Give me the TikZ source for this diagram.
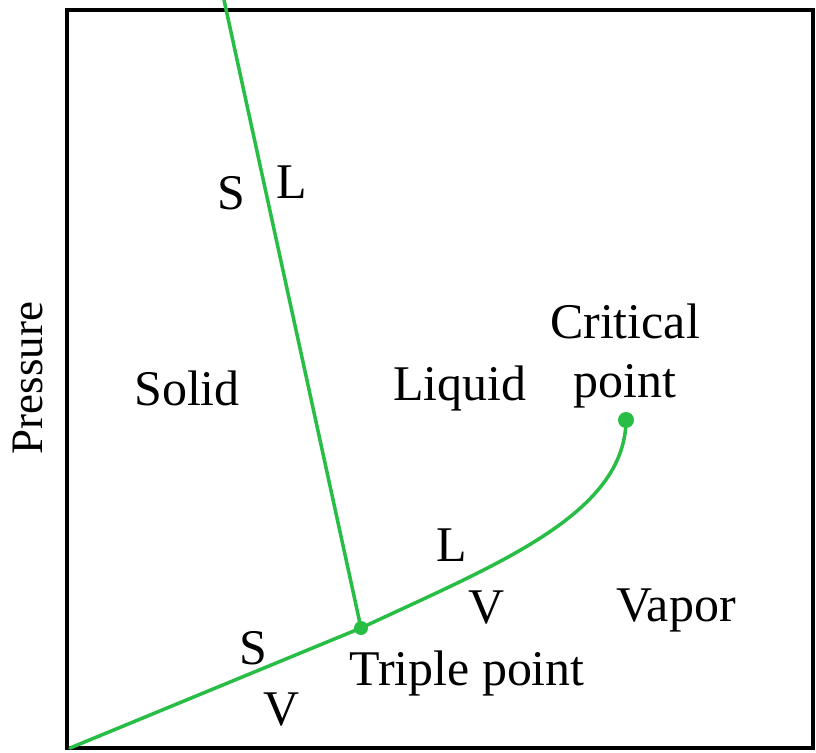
\documentclass[tikz,border=0pt]{standalone}
\usepackage{fontspec}
\setmainfont{Liberation Serif}

\definecolor{curvegreen}{RGB}{40,190,70}

\begin{document}
\begin{tikzpicture}[x=0.01cm,y=-0.01cm,line cap=round,
    lbl/.style={inner sep=0pt,font=\fontsize{14.2}{17}\selectfont},
    phaseline/.style={curvegreen,line width=1pt}]
  \useasboundingbox (0,0) rectangle (816,752);
  \draw[line width=1.2pt] (67,10) rectangle (813,748);

  \coordinate (top) at (224,0);
  \coordinate (low) at (70,748);
  \coordinate (triple) at (361,628);
  \coordinate (crit) at (626,420);

  \draw[phaseline] (top) -- (triple);
  \draw[phaseline] (low) -- (triple);
  \draw[phaseline] (triple) .. controls (495,565) and (625,515) .. (crit);
  \fill[curvegreen] (triple) circle (7);
  \fill[curvegreen] (crit) circle (8);

  \node[lbl,rotate=90,font=\fontsize{12.8}{15}\selectfont] (pres) at (28,378) {Pressure};
  \node[lbl] (sTop) at (231,193) {S};
  \node[lbl] (lTop) at (292,182) {L};
  \node[lbl] (solid) at (187,388) {Solid};
  \node[lbl] (liquid) at (460,388) {Liquid};
  \node[lbl,align=center] (critLbl) at (625,356) {Critical\\point};
  \node[lbl] (lMid) at (452,545) {L};
  \node[lbl] (vMid) at (487,608) {V};
  \node[lbl] (vapor) at (676,610) {Vapor};
  \node[lbl] (sLow) at (253,648) {S};
  \node[lbl] (vLow) at (282,710) {V};
  \node[lbl] (tripleLbl) at (467,673) {Triple point};
\end{tikzpicture}
\end{document}
